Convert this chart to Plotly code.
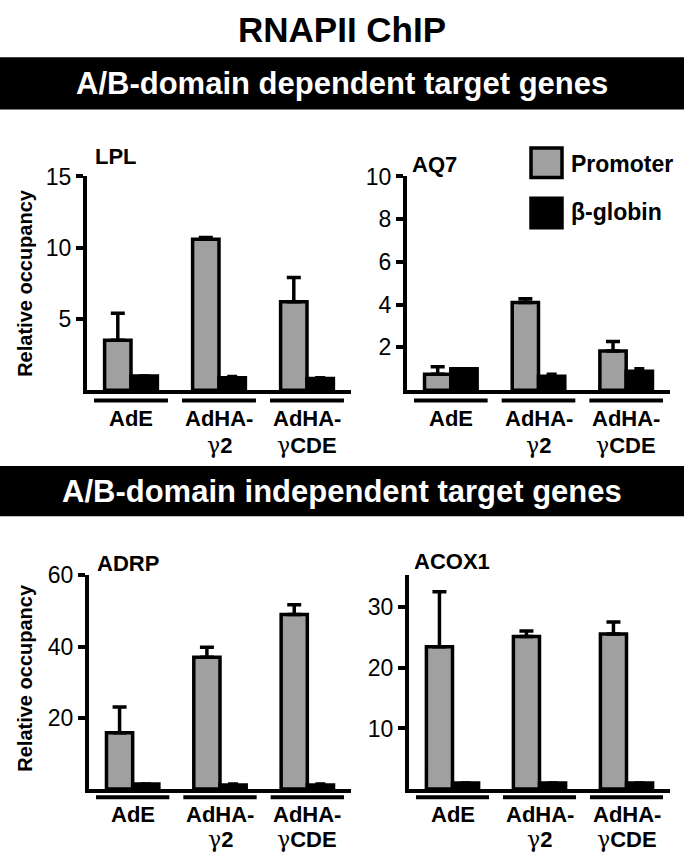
import plotly.graph_objects as go

W, H = 684, 853
FONT = "Liberation Sans, Arial, sans-serif"
GRAY = "#a0a0a0"

groups = ["AdE", "AdHA-γ2", "AdHA-γCDE"]
group_line1 = ["AdE", "AdHA-", "AdHA-"]
group_line2 = ["", "γ2", "γCDE"]

lpl_promoter = [3.5, 10.6, 6.2]
lpl_promoter_err = [1.9, 0.12, 1.7]
lpl_globin = [1.0, 0.88, 0.82]
lpl_globin_err = [0.0, 0.08, 0.06]

aq7_promoter = [0.75, 4.1, 1.83]
aq7_promoter_err = [0.35, 0.18, 0.45]
aq7_globin = [1.0, 0.65, 0.88]
aq7_globin_err = [0.0, 0.1, 0.12]

adrp_promoter = [15.8, 37.0, 49.0]
adrp_promoter_err = [7.2, 2.8, 2.7]
adrp_globin = [1.4, 1.1, 1.1]
adrp_globin_err = [0.0, 0.3, 0.3]

acox1_promoter = [23.5, 25.2, 25.6]
acox1_promoter_err = [9.1, 0.9, 2.0]
acox1_globin = [1.0, 1.0, 1.0]
acox1_globin_err = [0.0, 0.0, 0.0]

panel_titles = ["LPL", "AQ7", "ADRP", "ACOX1"]
y_ranges = [[0, 15], [0, 10], [0, 60], [0, 35.3]]
y_ticks = [[5, 10, 15], [2, 4, 6, 8, 10], [20, 40, 60], [10, 20, 30]]

def py(px):
    return 1 - px / H

def pxx(px):
    return px / W

x_dom = [[pxx(87), pxx(351)], [pxx(407), pxx(670)], [pxx(89), pxx(351)], [pxx(409), pxx(670)]]
y_dom = [[py(383), py(166)], [py(383), py(166)], [py(788), py(571)], [py(788), py(571)]]

panels = [
    (lpl_promoter, lpl_promoter_err, lpl_globin, lpl_globin_err),
    (aq7_promoter, aq7_promoter_err, aq7_globin, aq7_globin_err),
    (adrp_promoter, adrp_promoter_err, adrp_globin, adrp_globin_err),
    (acox1_promoter, acox1_promoter_err, acox1_globin, acox1_globin_err),
]

fig = go.Figure()
xpos = list(range(len(groups)))

for i, (pv, pe, gv, ge) in enumerate(panels):
    ax = "" if i == 0 else str(i + 1)
    fig.add_trace(go.Bar(
        x=xpos, y=pv, width=0.3, offset=-0.3,
        marker=dict(color=GRAY, line=dict(color="black", width=3.5)),
        error_y=dict(type="data", array=pe, arrayminus=[0] * 3, symmetric=False,
                     color="black", thickness=3.5, width=7),
        xaxis="x" + ax, yaxis="y" + ax, showlegend=False, name="Promoter"))
    fig.add_trace(go.Bar(
        x=xpos, y=gv, width=0.3, offset=0.0,
        marker=dict(color="black", line=dict(color="black", width=3.5)),
        error_y=dict(type="data", array=ge, arrayminus=[0] * 3, symmetric=False,
                     color="black", thickness=3.5, width=5),
        xaxis="x" + ax, yaxis="y" + ax, showlegend=False, name="β-globin"))

layout = dict(
    width=W, height=H, margin=dict(l=0, r=0, t=0, b=0),
    paper_bgcolor="white", plot_bgcolor="white",
    font=dict(family=FONT, color="black"),
    barmode="overlay", showlegend=False,
)

shapes = []
annotations = []

for i in range(4):
    ax = "" if i == 0 else str(i + 1)
    layout["xaxis" + ax] = dict(
        domain=x_dom[i], range=[-0.5, 2.5], showgrid=False, zeroline=False,
        showline=True, linecolor="black", linewidth=4, showticklabels=False,
        ticks="", anchor="y" + ax, fixedrange=True)
    layout["yaxis" + ax] = dict(
        domain=y_dom[i], range=y_ranges[i], tickvals=y_ticks[i], showgrid=False,
        zeroline=False, showline=True, linecolor="black", linewidth=4,
        ticks="outside", ticklen=7, tickwidth=3.5, tickcolor="black",
        tickfont=dict(size=23, family=FONT), anchor="x" + ax, fixedrange=True)

    under_y = 393.5 if i < 2 else 796.5
    l1_y = 412 if i < 2 else 814
    l2_y = 439 if i < 2 else 839
    for g in range(len(groups)):
        shapes.append(dict(type="line", xref="x" + ax, yref="paper",
                           x0=g - 0.42, x1=g + 0.42, y0=py(under_y), y1=py(under_y),
                           line=dict(color="black", width=4)))
        annotations.append(dict(xref="x" + ax, yref="paper", x=g, y=py(l1_y),
                                text="<b>%s</b>" % group_line1[g], showarrow=False,
                                xanchor="center", yanchor="middle",
                                font=dict(size=22, family=FONT)))
        if group_line2[g]:
            t = group_line2[g]
            txt = "<span style=\"font-family:'DejaVu Serif',serif;font-weight:normal\">γ</span><b>%s</b>" % t[1:]
            annotations.append(dict(xref="x" + ax, yref="paper", x=g, y=py(l2_y),
                                    text=txt, showarrow=False,
                                    xanchor="center", yanchor="middle",
                                    font=dict(size=22, family=FONT)))

title_pos = [(93, 146), (410, 154), (95, 559), (412, 557)]
for (tx, ty), t in zip(title_pos, panel_titles):
    annotations.append(dict(xref="paper", yref="paper", x=pxx(tx), y=py(ty),
                            text="<b>%s</b>" % t, showarrow=False,
                            xanchor="left", yanchor="middle",
                            font=dict(size=22, family=FONT)))

for ty in (274, 675):
    annotations.append(dict(xref="paper", yref="paper", x=pxx(25), y=py(ty),
                            text="<b>Relative occupancy</b>", textangle=-90,
                            showarrow=False, xanchor="center", yanchor="middle",
                            font=dict(size=20, family=FONT)))

annotations.append(dict(xref="paper", yref="paper", x=0.5, y=py(17),
                        text="<b>RNAPII ChIP</b>", showarrow=False,
                        xanchor="center", yanchor="middle",
                        font=dict(size=35, family=FONT)))

for (y0, y1, txt) in [(45, 98, "A/B-domain dependent target genes"),
                      (460, 511, "A/B-domain independent target genes")]:
    shapes.append(dict(type="rect", xref="paper", yref="paper", x0=0, x1=1,
                       y0=py(y1), y1=py(y0), fillcolor="black", line=dict(width=0)))
    annotations.append(dict(xref="paper", yref="paper", x=0.5, y=py((y0 + y1) / 2),
                            text="<b>%s</b>" % txt, showarrow=False,
                            xanchor="center", yanchor="middle",
                            font=dict(size=31, family=FONT, color="white")))

shapes.append(dict(type="rect", xref="paper", yref="paper", x0=pxx(531), x1=pxx(562),
                   y0=py(167), y1=py(137), fillcolor=GRAY, line=dict(color="black", width=3.5)))
shapes.append(dict(type="rect", xref="paper", yref="paper", x0=pxx(531), x1=pxx(562),
                   y0=py(218), y1=py(188), fillcolor="black", line=dict(color="black", width=3.5)))
annotations.append(dict(xref="paper", yref="paper", x=pxx(569), y=py(153),
                        text="<b>Promoter</b>", showarrow=False, xanchor="left",
                        yanchor="middle", font=dict(size=23, family=FONT)))
annotations.append(dict(xref="paper", yref="paper", x=pxx(569), y=py(202),
                        text="<b>β-globin</b>", showarrow=False, xanchor="left",
                        yanchor="middle", font=dict(size=23, family=FONT)))

layout["shapes"] = shapes
layout["annotations"] = annotations
fig.update_layout(**layout)
fig.write_html(
    "out.html",
    config={"displayModeBar": False},
    post_script="document.body.style.margin='0';document.body.style.overflow='hidden';",
)
